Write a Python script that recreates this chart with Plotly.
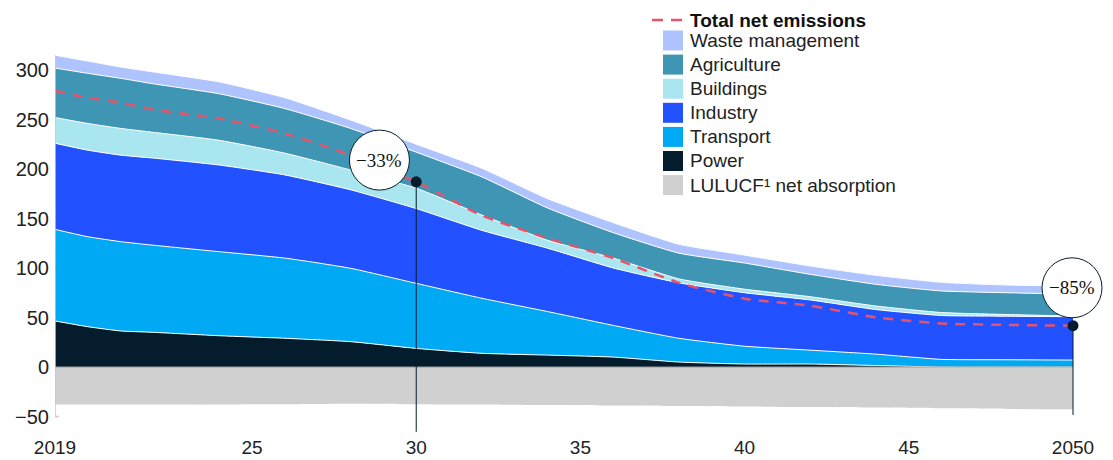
import plotly.graph_objects as go

# ---------------- data ----------------
years = [2019, 2020, 2021, 2022, 2024, 2026, 2028, 2030, 2032, 2034, 2036, 2038, 2040, 2042, 2044, 2046, 2048, 2050]

power_top     = [46.5, 40.7, 36.4, 35.0, 31.6, 29.0, 25.6, 18.8, 13.8, 12.0, 10.0, 5.0, 3.0, 3.0, 1.5, 0.0, 0.0, 0.0]
transport_top = [139, 131.6, 126.6, 123, 116.5, 110, 99.7, 84.5, 69.4, 56, 42, 29, 21, 17, 13, 7.7, 7.3, 7.0]
industry_top  = [226, 219, 214, 211, 204, 194, 179, 160, 138, 120, 100, 85, 75, 67.7, 58, 52, 51.3, 50.8]
buildings_top = [252, 246, 241, 237, 229, 216, 199, 180.6, 153.5, 128, 110, 89, 78.6, 71, 61.6, 55, 53, 51.5]
agri_top      = [302, 296.6, 291.6, 286, 276, 261, 241, 217, 192, 160.6, 135.7, 115, 105, 93.6, 83.5, 76.8, 75, 73.7]
waste_top     = [315, 309, 303, 298, 288, 272, 249.5, 225, 200.7, 170, 145.8, 124, 113, 102, 92.6, 85.5, 82.8, 81.8]
lulucf        = [-38, -38, -38, -38, -38, -37.5, -37, -37.5, -38, -38.5, -39, -39.5, -40, -40.5, -41, -41.7, -42.3, -42.7]
net_emissions = [279, 272, 267, 260, 251, 236, 214, 187, 153, 130, 110, 85, 69, 62, 50, 44, 42.5, 41.7]

def diff(a, b):
    return [round(x - y, 2) for x, y in zip(a, b)]

power = power_top
transport = diff(transport_top, power_top)
industry = diff(industry_top, transport_top)
buildings = diff(buildings_top, industry_top)
agriculture = diff(agri_top, buildings_top)
waste = diff(waste_top, agri_top)

sectors = ["Power", "Transport", "Industry", "Buildings", "Agriculture", "Waste management"]
sector_values = [power, transport, industry, buildings, agriculture, waste]
colors = {
    "Power": "#051C2C",
    "Transport": "#00A9F4",
    "Industry": "#2251FF",
    "Buildings": "#AAE6F0",
    "Agriculture": "#3F96B4",
    "Waste management": "#AFC3FF",
    "LULUCF": "#D0D0D0",
}
net_color = "#E5546C"

legend_labels = ["Waste management", "Agriculture", "Buildings", "Industry", "Transport", "Power", "LULUCF"]
legend_texts = ["Waste management", "Agriculture", "Buildings", "Industry", "Transport", "Power",
                "LULUCF\u00b9 net absorption"]

xtick_vals = [2019, 2025, 2030, 2035, 2040, 2045, 2050]
xtick_text = ["2019", "25", "30", "35", "40", "45", "2050"]
ytick_vals = [-50, 0, 50, 100, 150, 200, 250, 300]
ytick_text = ["\u221250", "0", "50", "100", "150", "200", "250", "300"]

callouts = [("\u221233%", 2030, 2028.88, 209), ("\u221285%", 2050, 2049.97, 80)]
# ---------------- layout geometry ----------------
W, H = 1113, 460
ML, MR, MT, MB = 55, 3, 5, 28
PW, PH = W - ML - MR, H - MT - MB

def px(xp):
    return (xp - ML) / PW

def py(yp):
    return (H - MB - yp) / PH

FONT = "Liberation Sans, Arial, sans-serif"
LS = dict(shape="spline", smoothing=0.5)

fig = go.Figure()

fig.add_trace(go.Scatter(x=years, y=lulucf, fill="tozeroy", mode="lines",
                         line=dict(color=colors["LULUCF"], width=0, **LS),
                         fillcolor=colors["LULUCF"], showlegend=False, hoverinfo="skip"))

for name, vals in zip(sectors, sector_values):
    fig.add_trace(go.Scatter(x=years, y=vals, stackgroup="one", mode="lines",
                             line=dict(color="white", width=1, **LS),
                             fillcolor=colors[name], name=name, showlegend=False))

fig.add_trace(go.Scatter(x=years, y=net_emissions, mode="lines",
                         line=dict(color=net_color, width=2.5, dash="10px,8px", **LS),
                         showlegend=False, name="Total net emissions"))

shapes = []
# zero line
shapes.append(dict(type="line", xref="x", yref="y", x0=years[0], x1=years[-1], y0=0, y1=0,
                   line=dict(color="#9a9a9a", width=1)))
# left axis line
shapes.append(dict(type="line", xref="x", yref="y", x0=years[0], x1=years[0], y0=-50, y1=waste_top[0],
                   line=dict(color="#c8c8c8", width=1.5)))
shapes.append(dict(type="line", xref="x", yref="y", x0=years[0], x1=years[0] + 0.12, y0=-50, y1=-50,
                   line=dict(color="#c8c8c8", width=1.5)))

# callout stems and circles
stem_bottoms = {2030: -65.5, 2050: -48.5}
for text, yr, cx, cy in callouts:
    yv = net_emissions[years.index(yr)]
    shapes.append(dict(type="line", xref="x", yref="y", x0=yr, x1=yr, y0=stem_bottoms[yr], y1=yv,
                       line=dict(color="#051C2C", width=1)))
    shapes.append(dict(type="circle", xref="x", yref="y", xsizemode="pixel", ysizemode="pixel",
                       xanchor=cx, yanchor=cy, x0=-30, x1=30, y0=-30, y1=30,
                       fillcolor="white", line=dict(color="#051C2C", width=1)))

fig.add_trace(go.Scatter(x=[c[1] for c in callouts],
                         y=[net_emissions[years.index(c[1])] for c in callouts],
                         mode="markers", marker=dict(color="#051C2C", size=11),
                         showlegend=False, hoverinfo="skip"))

annotations = []
for text, yr, cx, cy in callouts:
    annotations.append(dict(x=cx, y=cy, xref="x", yref="y", text=text, showarrow=False,
                            font=dict(family="Liberation Serif, DejaVu Serif, serif", size=19, color="#111111")))

# manual legend
shapes.append(dict(type="line", xref="paper", yref="paper", x0=px(652), x1=px(663), y0=py(20), y1=py(20),
                   line=dict(color=net_color, width=2.5)))
shapes.append(dict(type="line", xref="paper", yref="paper", x0=px(671), x1=px(682), y0=py(20), y1=py(20),
                   line=dict(color=net_color, width=2.5)))
annotations.append(dict(x=px(688), y=py(20), xref="paper", yref="paper", xanchor="left", yanchor="middle",
                        text="<b>Total net emissions</b>", showarrow=False,
                        font=dict(family=FONT, size=19, color="#111111")))
for i, (key, label) in enumerate(zip(legend_labels, legend_texts)):
    cyp = 40.5 + i * 24.1
    shapes.append(dict(type="rect", xref="paper", yref="paper", x0=px(663), x1=px(683),
                       y0=py(cyp + 10), y1=py(cyp - 10), fillcolor=colors[key], line=dict(width=0)))
    annotations.append(dict(x=px(688), y=py(cyp), xref="paper", yref="paper", xanchor="left", yanchor="middle",
                            text=label, showarrow=False,
                            font=dict(family=FONT, size=19, color="#222222")))

x_per_px = 31 / 1018.0
y_per_px = 1 / 0.99
x0 = 2019
x1 = 2019 + PW * x_per_px
y_zero_px = 367
y_top = (y_zero_px - MT) * y_per_px
y_bot = -(H - MB - y_zero_px) * y_per_px

fig.update_layout(
    width=W, height=H,
    margin=dict(l=ML, r=MR, t=MT, b=MB, autoexpand=False),
    paper_bgcolor="white", plot_bgcolor="white",
    shapes=shapes, annotations=annotations,
    showlegend=False,
    font=dict(family=FONT, size=19, color="#222222"),
    xaxis=dict(range=[x0, x1], tickvals=xtick_vals, ticktext=xtick_text, showgrid=False,
               zeroline=False, showline=False, ticks="", ticklabelstandoff=2, automargin=False,
               tickfont=dict(family=FONT, size=19, color="#222222")),
    yaxis=dict(range=[y_bot, y_top], tickvals=ytick_vals, ticktext=ytick_text, showgrid=False,
               zeroline=False, showline=False, ticks="", ticklabelstandoff=5, automargin=False,
               tickfont=dict(family=FONT, size=20, color="#222222")),
)

fig.write_html("out.html")
